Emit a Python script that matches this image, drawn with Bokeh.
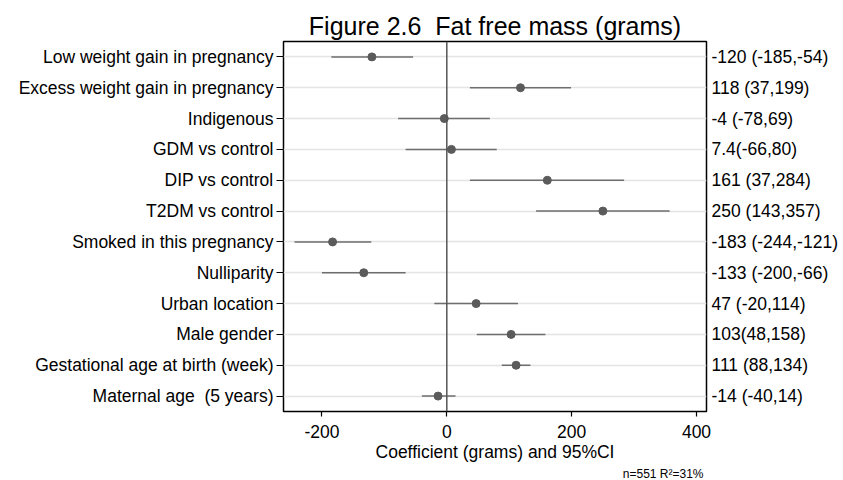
from bokeh.plotting import figure
from bokeh.models import (Range1d, FixedTicker, LinearAxis, Span, Title,
                          ColumnDataSource)
from bokeh.embed import file_html
from bokeh.resources import INLINE

# Regression coefficients for fat free mass (grams) with 95% confidence limits
factors = [
    "Low weight gain in pregnancy",
    "Excess weight gain in pregnancy",
    "Indigenous",
    "GDM vs control",
    "DIP vs control",
    "T2DM vs control",
    "Smoked in this pregnancy",
    "Nulliparity",
    "Urban location",
    "Male gender",
    "Gestational age at birth (week)",
    "Maternal age \u00a0(5 years)",
]
coef = [-120, 118, -4, 7.4, 161, 250, -183, -133, 47, 103, 111, -14]
lower = [-185, 37, -78, -66, 37, 143, -244, -200, -20, 48, 88, -40]
upper = [-54, 199, 69, 80, 284, 357, -121, -66, 114, 158, 134, 14]
estimate_labels = [
    "-120 (-185,-54)",
    "118 (37,199)",
    "-4 (-78,69)",
    "7.4(-66,80)",
    "161 (37,284)",
    "250 (143,357)",
    "-183 (-244,-121)",
    "-133 (-200,-66)",
    "47 (-20,114)",
    "103(48,158)",
    "111 (88,134)",
    "-14 (-40,14)",
]
x_ticks = [-200, 0, 200, 400]
x_tick_labels = ["-200", "0", "200", "400"]
footnote = "n=551 R\u00b2=31%"

rows = list(range(1, len(factors) + 1))
src = ColumnDataSource(dict(row=rows, coef=coef, lo=lower, hi=upper))

FONT = "Liberation Sans"
LABEL_SIZE = "17.5px"

p = figure(
    width=843, height=480,
    x_range=Range1d(-261.6, 416),
    y_range=Range1d(12.5, 0.5),
    output_backend="svg", toolbar_location=None,
    min_border_left=283, min_border_right=137,
    min_border_top=41, min_border_bottom=68,
    title="Figure 2.6 \u00a0Fat free mass (grams)",
)
p.background_fill_color = "white"
p.border_fill_color = "white"
p.outline_line_color = "black"
p.outline_line_width = 1.5

p.title.text_font = FONT
p.title.text_font_size = "25px"
p.title.text_font_style = "normal"
p.title.align = "center"
p.title.text_color = "black"
p.title.offset = 0
p.title.standoff = 4

# horizontal guide lines at each row, no vertical grid
p.xgrid.visible = False
p.ygrid.ticker = FixedTicker(ticks=rows)
p.ygrid.grid_line_color = "#e4e4e4"
p.ygrid.grid_line_width = 1.5

# reference line at zero
p.add_layout(Span(location=0, dimension="height", line_color="#555555",
                  line_width=1.5))

# confidence intervals and point estimates
p.segment(x0="lo", x1="hi", y0="row", y1="row", source=src,
          line_color="#6e6e6e", line_width=1.5)
p.scatter(x="coef", y="row", source=src, size=8,
          fill_color="#5b5b5b", line_color="#5b5b5b")

# bottom axis
xa = p.xaxis[0]
xa.ticker = FixedTicker(ticks=x_ticks)
xa.major_label_overrides = {t: s for t, s in zip(x_ticks, x_tick_labels)}
xa.axis_label = "Coefficient (grams) and 95%CI"
xa.axis_label_text_font = FONT
xa.axis_label_text_font_size = LABEL_SIZE
xa.axis_label_text_font_style = "normal"
xa.axis_label_text_color = "black"
xa.axis_label_standoff = 1
xa.major_label_text_font = FONT
xa.major_label_text_font_size = LABEL_SIZE
xa.major_label_text_color = "black"
xa.major_label_standoff = 8
xa.major_tick_out = 5
xa.major_tick_in = 0
xa.minor_tick_out = 0
xa.minor_tick_in = 0
xa.axis_line_color = None
xa.major_tick_line_color = "black"
xa.major_tick_line_width = 1.2

# left axis with factor names
ya = p.yaxis[0]
ya.ticker = FixedTicker(ticks=rows)
ya.major_label_overrides = {r: f for r, f in zip(rows, factors)}
ya.major_label_text_font = FONT
ya.major_label_text_font_size = LABEL_SIZE
ya.major_label_text_color = "black"
ya.major_label_standoff = 3
ya.major_tick_out = 7
ya.major_tick_in = 0
ya.minor_tick_out = 0
ya.minor_tick_in = 0
ya.axis_line_color = None
ya.major_tick_line_color = "black"
ya.major_tick_line_width = 1.2

# right axis carrying estimate (95% CI) text
ra = LinearAxis(ticker=FixedTicker(ticks=rows),
                major_label_overrides={r: s for r, s in zip(rows, estimate_labels)})
ra.major_label_text_font = FONT
ra.major_label_text_font_size = LABEL_SIZE
ra.major_label_text_color = "black"
ra.major_label_standoff = 5
ra.major_tick_out = 0
ra.major_tick_in = 0
ra.minor_tick_out = 0
ra.minor_tick_in = 0
ra.axis_line_color = None
p.add_layout(ra, "right")

# sample size / model fit note
note = Title(text=footnote, align="right", text_font=FONT,
             text_font_size="12px", text_font_style="normal",
             text_color="black", standoff=0, offset=3)
p.add_layout(note, "below")

open("out.html", "w").write(file_html(p, INLINE))
